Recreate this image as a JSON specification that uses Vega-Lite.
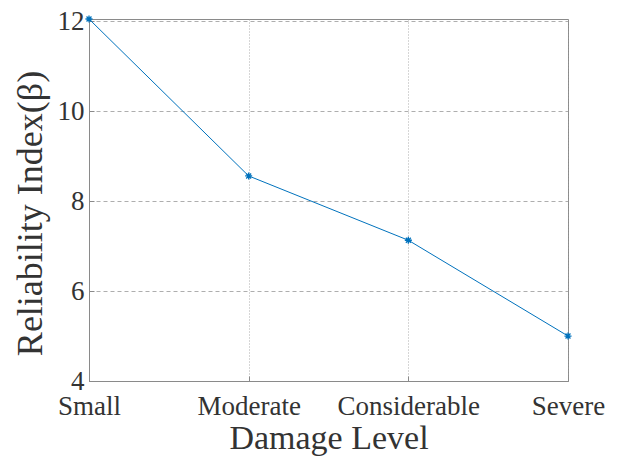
{
  "$schema": "https://vega.github.io/schema/vega-lite/v6.json",
  "width": 479,
  "height": 362,
  "autosize": {"type": "none"},
  "padding": {"left": 89, "top": 19, "right": 49, "bottom": 85},
  "background": "white",
  "config": {
    "font": "Liberation Serif",
    "view": {"stroke": "#8a8a8a", "strokeWidth": 1},
    "axis": {
      "labelFont": "Liberation Serif",
      "titleFont": "Liberation Serif",
      "labelColor": "#333333",
      "titleColor": "#333333",
      "labelFontSize": 27,
      "titleFontSize": 34,
      "titleFontWeight": "normal",
      "domainColor": "#8a8a8a",
      "tickColor": "#8a8a8a",
      "tickSize": -5
    }
  },
  "data": {
    "values": [
      {"level": "Small", "beta": 12.05},
      {"level": "Moderate", "beta": 8.56},
      {"level": "Considerable", "beta": 7.13},
      {"level": "Severe", "beta": 5.0}
    ]
  },
  "encoding": {
    "x": {
      "field": "level",
      "type": "ordinal",
      "sort": ["Small", "Moderate", "Considerable", "Severe"],
      "scale": {"type": "point", "padding": 0},
      "axis": {
        "title": "Damage Level",
        "labelAngle": 0,
        "labelPadding": 17,
        "titlePadding": 2,
        "grid": true,
        "gridDash": [1, 2],
        "gridColor": "#9a9a9a",
        "gridOpacity": 0.8
      }
    },
    "y": {
      "field": "beta",
      "type": "quantitative",
      "scale": {"domain": [4, 12.05], "nice": false, "zero": false},
      "axis": {
        "title": "Reliability Index(β)",
        "titleFontSize": 36,
        "titleY": 194,
        "values": [4, 6, 8, 10, 12],
        "labelPadding": 10,
        "titlePadding": 8,
        "grid": true,
        "gridDash": [4, 3],
        "gridColor": "#9a9a9a",
        "gridOpacity": 0.8
      }
    }
  },
  "layer": [
    {"mark": {"type": "line", "color": "#0072BD", "strokeWidth": 1}},
    {
      "mark": {
        "type": "point",
        "shape": "M-1,0L1,0M0,-1L0,1M-0.7,-0.7L0.7,0.7M-0.7,0.7L0.7,-0.7",
        "filled": false,
        "color": "#0072BD",
        "strokeWidth": 1.3,
        "size": 50,
        "opacity": 1
      }
    }
  ]
}
